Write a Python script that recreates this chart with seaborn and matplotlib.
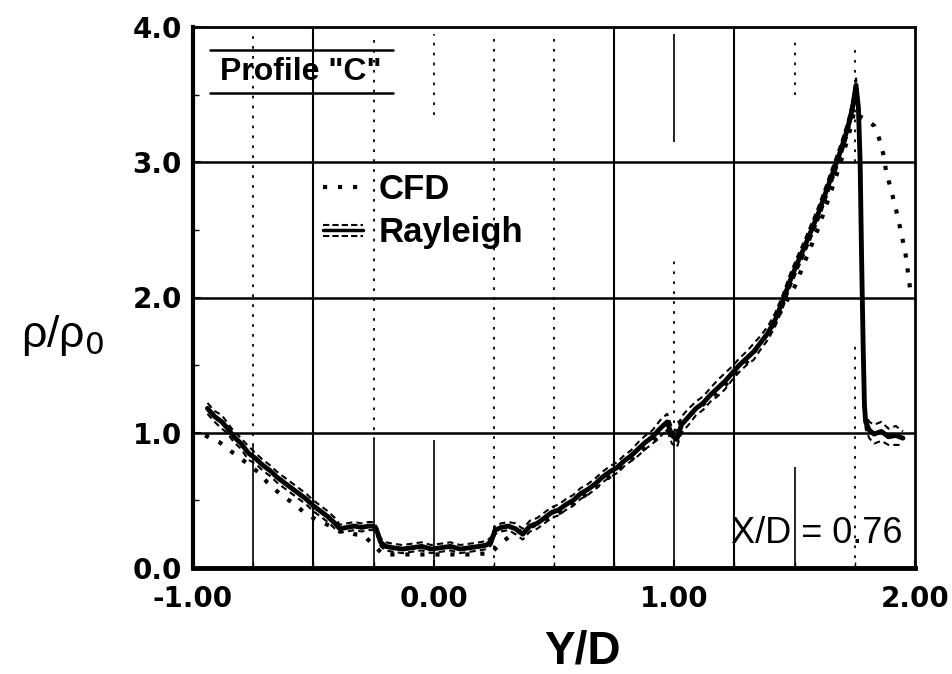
import matplotlib
matplotlib.use("Agg")
import matplotlib.pyplot as plt
import seaborn as sns
import pandas as pd
from matplotlib.lines import Line2D
from matplotlib.legend_handler import HandlerBase

# ---------------- data ----------------
ray_yd = [-0.94, -0.91, -0.88, -0.86, -0.83, -0.80, -0.77, -0.74, -0.71, -0.68,
          -0.65, -0.62, -0.59, -0.56, -0.53, -0.50, -0.47, -0.44, -0.41, -0.39,
          -0.36, -0.33, -0.30, -0.27, -0.25, -0.235, -0.22, -0.20, -0.17, -0.13,
          -0.09, -0.05, -0.01, 0.03, 0.07, 0.11, 0.15, 0.19, 0.22, 0.24,
          0.255, 0.28, 0.31, 0.34, 0.37, 0.40, 0.43, 0.46, 0.49, 0.52,
          0.55, 0.58, 0.61, 0.64, 0.67, 0.70, 0.73, 0.76, 0.79, 0.82,
          0.85, 0.88, 0.91, 0.94, 0.97, 0.99, 1.01, 1.03, 1.06, 1.09,
          1.12, 1.15, 1.18, 1.21, 1.24, 1.27, 1.30, 1.33, 1.36, 1.39,
          1.42, 1.45, 1.48, 1.51, 1.54, 1.57, 1.60, 1.63, 1.66, 1.69,
          1.72, 1.74, 1.755, 1.765, 1.772, 1.778, 1.785, 1.79, 1.795, 1.81,
          1.83, 1.86, 1.89, 1.92, 1.95]
ray_rho = [1.18, 1.12, 1.08, 1.04, 0.97, 0.92, 0.85, 0.81, 0.76, 0.72,
           0.67, 0.63, 0.59, 0.55, 0.51, 0.46, 0.42, 0.38, 0.33, 0.29,
           0.30, 0.31, 0.30, 0.31, 0.31, 0.27, 0.19, 0.16, 0.15, 0.14,
           0.15, 0.16, 0.14, 0.15, 0.16, 0.14, 0.15, 0.16, 0.17, 0.20,
           0.28, 0.30, 0.31, 0.29, 0.25, 0.31, 0.33, 0.37, 0.41, 0.43,
           0.47, 0.50, 0.55, 0.58, 0.62, 0.67, 0.71, 0.74, 0.79, 0.83,
           0.88, 0.93, 0.97, 1.03, 1.08, 0.98, 0.95, 1.06, 1.12, 1.18,
           1.22, 1.28, 1.33, 1.38, 1.44, 1.50, 1.55, 1.60, 1.67, 1.74,
           1.84, 1.97, 2.12, 2.25, 2.37, 2.50, 2.63, 2.78, 2.93, 3.08,
           3.25, 3.40, 3.57, 3.40, 3.00, 2.30, 1.60, 1.20, 1.08, 1.02,
           0.99, 1.01, 0.97, 0.98, 0.96]
ray_err = [0.04, 0.04, 0.05, 0.04, 0.04, 0.04, 0.05, 0.04, 0.04, 0.04,
           0.04, 0.04, 0.04, 0.04, 0.04, 0.04, 0.04, 0.04, 0.04, 0.03,
           0.03, 0.03, 0.03, 0.03, 0.03, 0.03, 0.03, 0.03, 0.03, 0.03,
           0.03, 0.03, 0.03, 0.03, 0.03, 0.03, 0.03, 0.03, 0.03, 0.03,
           0.03, 0.03, 0.03, 0.04, 0.04, 0.04, 0.04, 0.04, 0.04, 0.04,
           0.04, 0.04, 0.04, 0.04, 0.04, 0.04, 0.04, 0.04, 0.04, 0.04,
           0.05, 0.05, 0.05, 0.06, 0.06, 0.06, 0.06, 0.06, 0.06, 0.05,
           0.05, 0.05, 0.06, 0.06, 0.05, 0.05, 0.05, 0.06, 0.05, 0.05,
           0.05, 0.05, 0.05, 0.05, 0.05, 0.05, 0.05, 0.05, 0.05, 0.05,
           0.05, 0.05, 0.05, 0.05, 0.04, 0.04, 0.04, 0.04, 0.05, 0.06,
           0.07, 0.07, 0.06, 0.07, 0.05]

cfd_yd = [-0.95, -0.89, -0.84, -0.78, -0.73, -0.69, -0.64, -0.585, -0.53, -0.47,
          -0.40, -0.33, -0.29, -0.25, -0.21, -0.15, -0.05, 0.05, 0.15, 0.24,
          0.27, 0.32, 0.40, 0.50, 0.60, 0.70, 0.80, 0.90, 1.00, 1.10,
          1.20, 1.30, 1.40, 1.50, 1.60, 1.66, 1.70, 1.74, 1.755, 1.77,
          1.80, 1.83, 1.85, 1.87, 1.88, 1.90, 1.92, 1.94, 1.96, 1.98]
cfd_rho = [0.98, 0.93, 0.86, 0.78, 0.71, 0.63, 0.55, 0.48, 0.40, 0.34,
           0.29, 0.25, 0.24, 0.17, 0.10, 0.10, 0.10, 0.10, 0.10, 0.11,
           0.17, 0.24, 0.30, 0.38, 0.50, 0.63, 0.77, 0.92, 1.05, 1.18,
           1.33, 1.52, 1.76, 2.08, 2.52, 2.83, 3.05, 3.30, 3.50, 3.34,
           3.31, 3.27, 3.18, 3.05, 2.93, 2.80, 2.66, 2.50, 2.33, 2.06]

x_ticks = [-1.0, 0.0, 1.0, 2.0]
x_tick_labels = ["-1.00", "0.00", "1.00", "2.00"]
y_ticks = [0, 1, 2, 3, 4]
y_tick_labels = ["0.0", "1.0", "2.0", "3.0", "4.0"]

# ---------------- figure ----------------
sns.set_style("white")
plt.rcParams["font.family"] = ["Liberation Sans", "DejaVu Sans"]
plt.rcParams["axes.unicode_minus"] = False
for key in ["text.color", "axes.labelcolor", "xtick.color", "ytick.color"]:
    plt.rcParams[key] = "black"

fig = plt.figure(figsize=(9.53, 6.74), dpi=100)
ax = fig.add_axes([193 / 953, (674 - 568) / 674, 722 / 953, 541 / 674])

ray_df = pd.DataFrame({"yd": ray_yd, "rho": ray_rho, "err": ray_err})
ray_df["upper"] = ray_df["rho"] + ray_df["err"]
ray_df["lower"] = ray_df["rho"] - ray_df["err"]
cfd_df = pd.DataFrame({"yd": cfd_yd, "rho": cfd_rho})

# grid (drawn first, under data)
for yv in [1, 2, 3]:
    ax.axhline(yv, color="black", lw=1.8, zorder=1)
for xv in [-0.5, 0.75, 1.25]:
    ax.axvline(xv, color="black", lw=1.5, zorder=1)
solid_segs = [(-0.75, 0.0, 0.9), (-0.25, 0.0, 0.95), (0.0, 0.0, 0.95),
              (1.0, 0.0, 1.0), (1.0, 3.15, 3.95), (1.5, 0.0, 0.75)]
dotted_segs = [(-0.75, 0.9, 3.95), (-0.25, 0.95, 3.95), (0.0, 3.35, 3.95),
               (0.25, 0.0, 3.95), (0.5, 0.0, 3.95), (1.0, 1.0, 2.3),
               (1.5, 3.5, 3.9), (1.75, 0.0, 1.65), (1.75, 3.0, 3.85)]
for xv, a, b in solid_segs:
    ax.vlines(xv, a, b, color="black", lw=1.2, zorder=1)
for xv, a, b in dotted_segs:
    ax.vlines(xv, a, b, color="black", lw=1.3, linestyles=[(0, (1.5, 4))], zorder=1)

# data
sns.lineplot(data=cfd_df, x="yd", y="rho", ax=ax, color="black", lw=3,
             linestyle=(0, (1, 2.6)), estimator=None, sort=False, zorder=3)
sns.lineplot(data=ray_df, x="yd", y="upper", ax=ax, color="black", lw=1.5,
             linestyle=(0, (3, 2)), estimator=None, sort=False, zorder=3)
sns.lineplot(data=ray_df, x="yd", y="lower", ax=ax, color="black", lw=1.5,
             linestyle=(0, (3, 2)), estimator=None, sort=False, zorder=3)
sns.lineplot(data=ray_df, x="yd", y="rho", ax=ax, color="black", lw=3.5,
             estimator=None, sort=False, zorder=4)

ax.set_xlim(-1, 2)
ax.set_ylim(0, 4)
ax.set_xticks(x_ticks)
ax.set_xticklabels(x_tick_labels, fontfamily="DejaVu Sans", fontweight="bold",
                   fontsize=20, color="black")
ax.set_yticks(y_ticks)
ax.set_yticklabels(y_tick_labels, fontfamily="DejaVu Sans", fontweight="bold",
                   fontsize=20, color="black")
ax.set_xticks([-0.75, -0.5, -0.25, 0.25, 0.5, 0.75, 1.25, 1.5, 1.75], minor=True)
ax.set_yticks([0.5, 1.5, 2.5, 3.5], minor=True)
ax.tick_params(which="major", direction="in", length=6, width=1.5, color="black")
ax.tick_params(which="minor", direction="in", length=4, width=1.0, color="black")
ax.tick_params(axis="x", which="major", pad=12)
ax.tick_params(axis="y", which="major", pad=8)
ax.tick_params(axis="x", which="both", top=False, bottom=True)
ax.tick_params(axis="y", which="both", left=True, right=False)

for side, w in [("left", 3.0), ("bottom", 3.5), ("top", 2.0), ("right", 2.0)]:
    ax.spines[side].set_visible(True)
    ax.spines[side].set_color("black")
    ax.spines[side].set_linewidth(w)

ax.set_xlabel("Y/D", fontsize=33, fontweight="bold", color="black")
ax.xaxis.label.set_va("center")
ax.xaxis.set_label_coords(0.54, -0.155)
ax.set_ylabel("ρ/ρ$_0$", rotation=0, fontsize=32, color="black")
ax.yaxis.label.set_ha("center")
ax.yaxis.label.set_va("center")
ax.yaxis.set_label_coords(-0.181, 0.43)

# title box "Profile "C""
ax.text(0.15, 0.917, 'Profile "C"', transform=ax.transAxes, ha="center", va="center",
        fontsize=23, fontweight="bold", color="black", zorder=5)
ax.plot([0.0235, 0.277], [0.9575, 0.9575], transform=ax.transAxes, color="black", lw=1.8)
ax.plot([0.0235, 0.277], [0.878, 0.878], transform=ax.transAxes, color="black", lw=1.8)

ax.text(0.983, 0.046, "X/D = 0.76", transform=ax.transAxes, ha="right", va="baseline",
        fontsize=26, color="black", zorder=5)


# legend
class RayleighHandle:
    pass


class HandlerRayleigh(HandlerBase):
    def create_artists(self, legend, orig_handle, xdescent, ydescent, width, height,
                       fontsize, trans):
        yc = height / 2 - ydescent
        off = height * 0.24
        x0, x1 = -xdescent, width - xdescent
        arts = [
            Line2D([x0, x1], [yc + off] * 2, color="black", lw=1.5, linestyle=(0, (3, 1.5))),
            Line2D([x0, x1], [yc, yc], color="black", lw=2.5),
            Line2D([x0, x1], [yc - off] * 2, color="black", lw=1.5, linestyle=(0, (3, 1.5))),
        ]
        for a in arts:
            a.set_transform(trans)
        return arts


cfd_handle = Line2D([], [], color="black", lw=3, linestyle=(0, (1, 2.6)))
leg = ax.legend(handles=[cfd_handle, RayleighHandle()], labels=["CFD", "Rayleigh"],
                handler_map={RayleighHandle: HandlerRayleigh()},
                loc="upper left", bbox_to_anchor=(0.18, 0.730), frameon=False,
                handlelength=1.15, handletextpad=0.45, labelspacing=0.3,
                borderpad=0, borderaxespad=0,
                prop={"weight": "bold", "size": 25, "family": "Liberation Sans"})
for t in leg.get_texts():
    t.set_color("black")

fig.savefig("out.png", dpi=100)
